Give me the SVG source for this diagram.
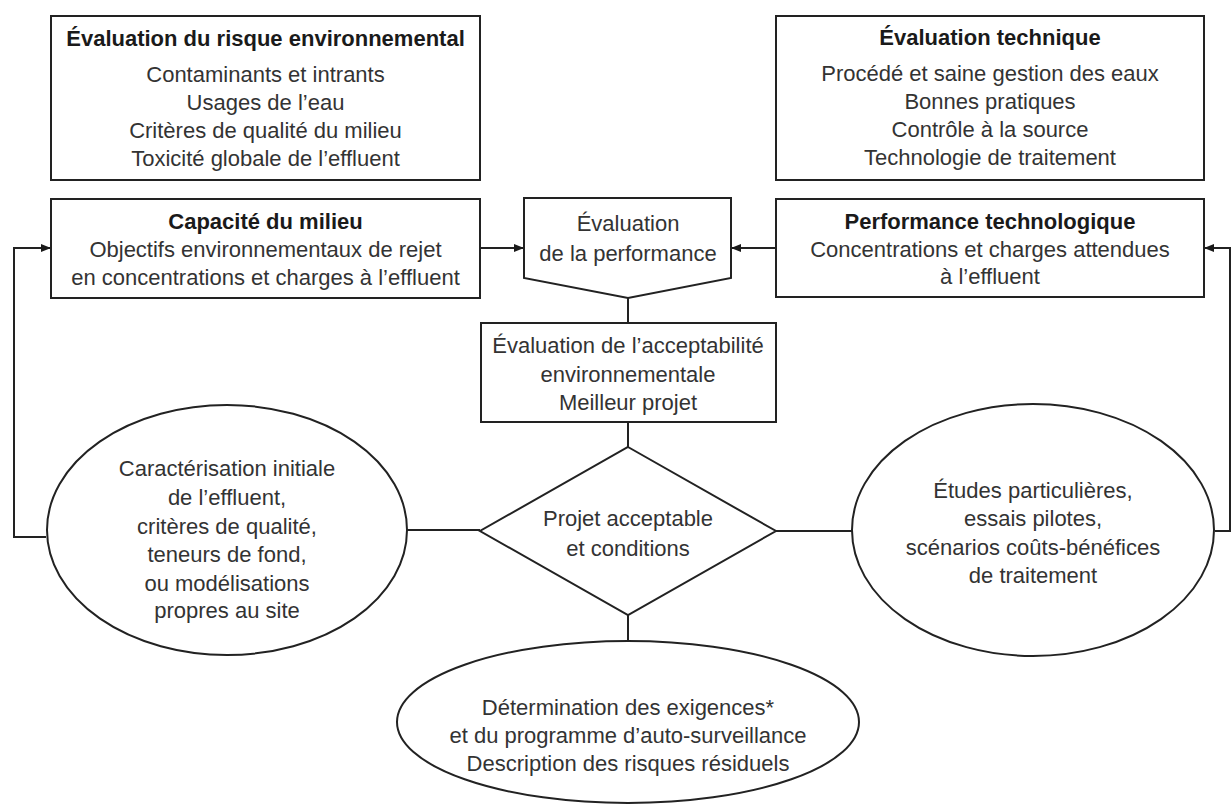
<svg xmlns="http://www.w3.org/2000/svg" width="1232" height="805" viewBox="0 0 1232 805">
<defs>
<marker id="ah" viewBox="0 0 10 8" refX="10" refY="4" markerWidth="10" markerHeight="8" markerUnits="userSpaceOnUse" orient="auto">
<path d="M0,0 L10,4 L0,8 Z" fill="#1a1a1a"/>
</marker>
<style>
.s{fill:#fff;stroke:#222;stroke-width:2}
.c{fill:none;stroke:#222;stroke-width:2}
text{font-family:"Liberation Sans",Arial,sans-serif;font-size:22px;fill:#333;text-anchor:middle}
.b{font-weight:bold;fill:#1a1a1a}
</style>
</defs>
<rect width="1232" height="805" fill="#fff"/>
<g id="connectors">
<path class="c" d="M46,537 H14 V248 H51" marker-end="url(#ah)"/>
<path class="c" d="M480,248 H524" marker-end="url(#ah)"/>
<path class="c" d="M776,248 H731" marker-end="url(#ah)"/>
<path class="c" d="M1215,531 H1230 V248 H1204" marker-end="url(#ah)"/>
<path class="c" d="M628,298 V323"/>
<path class="c" d="M628,422 V447"/>
<path class="c" d="M407,530 H480"/>
<path class="c" d="M776,531 H852"/>
<path class="c" d="M628,615 V641"/>
</g>
<g id="risque">
<rect class="s" x="51" y="16" width="429" height="164"/>
<text class="b" x="265.5" y="46">Évaluation du risque environnemental</text>
<text x="265.5" y="82">Contaminants et intrants</text>
<text x="265.5" y="110">Usages de l’eau</text>
<text x="265.5" y="138">Critères de qualité du milieu</text>
<text x="265.5" y="166">Toxicité globale de l’effluent</text>
</g>
<g id="technique">
<rect class="s" x="776" y="16" width="428" height="164"/>
<text class="b" x="990" y="45">Évaluation technique</text>
<text x="990" y="81">Procédé et saine gestion des eaux</text>
<text x="990" y="109">Bonnes pratiques</text>
<text x="990" y="137">Contrôle à la source</text>
<text x="990" y="165">Technologie de traitement</text>
</g>
<g id="capacite">
<rect class="s" x="51" y="199" width="429" height="99"/>
<text class="b" x="265.5" y="229">Capacité du milieu</text>
<text x="265.5" y="257">Objectifs environnementaux de rejet</text>
<text x="265.5" y="285">en concentrations et charges à l’effluent</text>
</g>
<g id="perftech">
<rect class="s" x="776" y="199" width="428" height="98"/>
<text class="b" x="990" y="229">Performance technologique</text>
<text x="990" y="257">Concentrations et charges attendues</text>
<text x="990" y="284">à l’effluent</text>
</g>
<g id="evalperf">
<path class="s" d="M524,198 H731 V278 L628,298 L524,278 Z"/>
<text x="628" y="231">Évaluation</text>
<text x="628" y="261">de la performance</text>
</g>
<g id="acceptabilite">
<rect class="s" x="481" y="323" width="295" height="99"/>
<text x="628" y="353">Évaluation de l’acceptabilité</text>
<text x="628" y="382">environnementale</text>
<text x="628" y="410">Meilleur projet</text>
</g>
<g id="decision">
<path class="s" d="M628,447 L776,531 L628,615 L480,531 Z"/>
<text x="628" y="526">Projet acceptable</text>
<text x="628" y="556">et conditions</text>
</g>
<g id="caracterisation">
<ellipse class="s" cx="227" cy="530" rx="180" ry="125"/>
<text x="227" y="476">Caractérisation initiale</text>
<text x="227" y="505">de l’effluent,</text>
<text x="227" y="534">critères de qualité,</text>
<text x="227" y="562">teneurs de fond,</text>
<text x="227" y="591">ou modélisations</text>
<text x="227" y="618">propres au site</text>
</g>
<g id="etudes">
<ellipse class="s" cx="1033" cy="530" rx="181" ry="126"/>
<text x="1033" y="498">Études particulières,</text>
<text x="1033" y="526">essais pilotes,</text>
<text x="1033" y="555">scénarios coûts-bénéfices</text>
<text x="1033" y="583">de traitement</text>
</g>
<g id="determination">
<ellipse class="s" cx="628" cy="722" rx="231" ry="81"/>
<text x="628" y="715">Détermination des exigences*</text>
<text x="628" y="743">et du programme d’auto-surveillance</text>
<text x="628" y="771">Description des risques résiduels</text>
</g>
</svg>
